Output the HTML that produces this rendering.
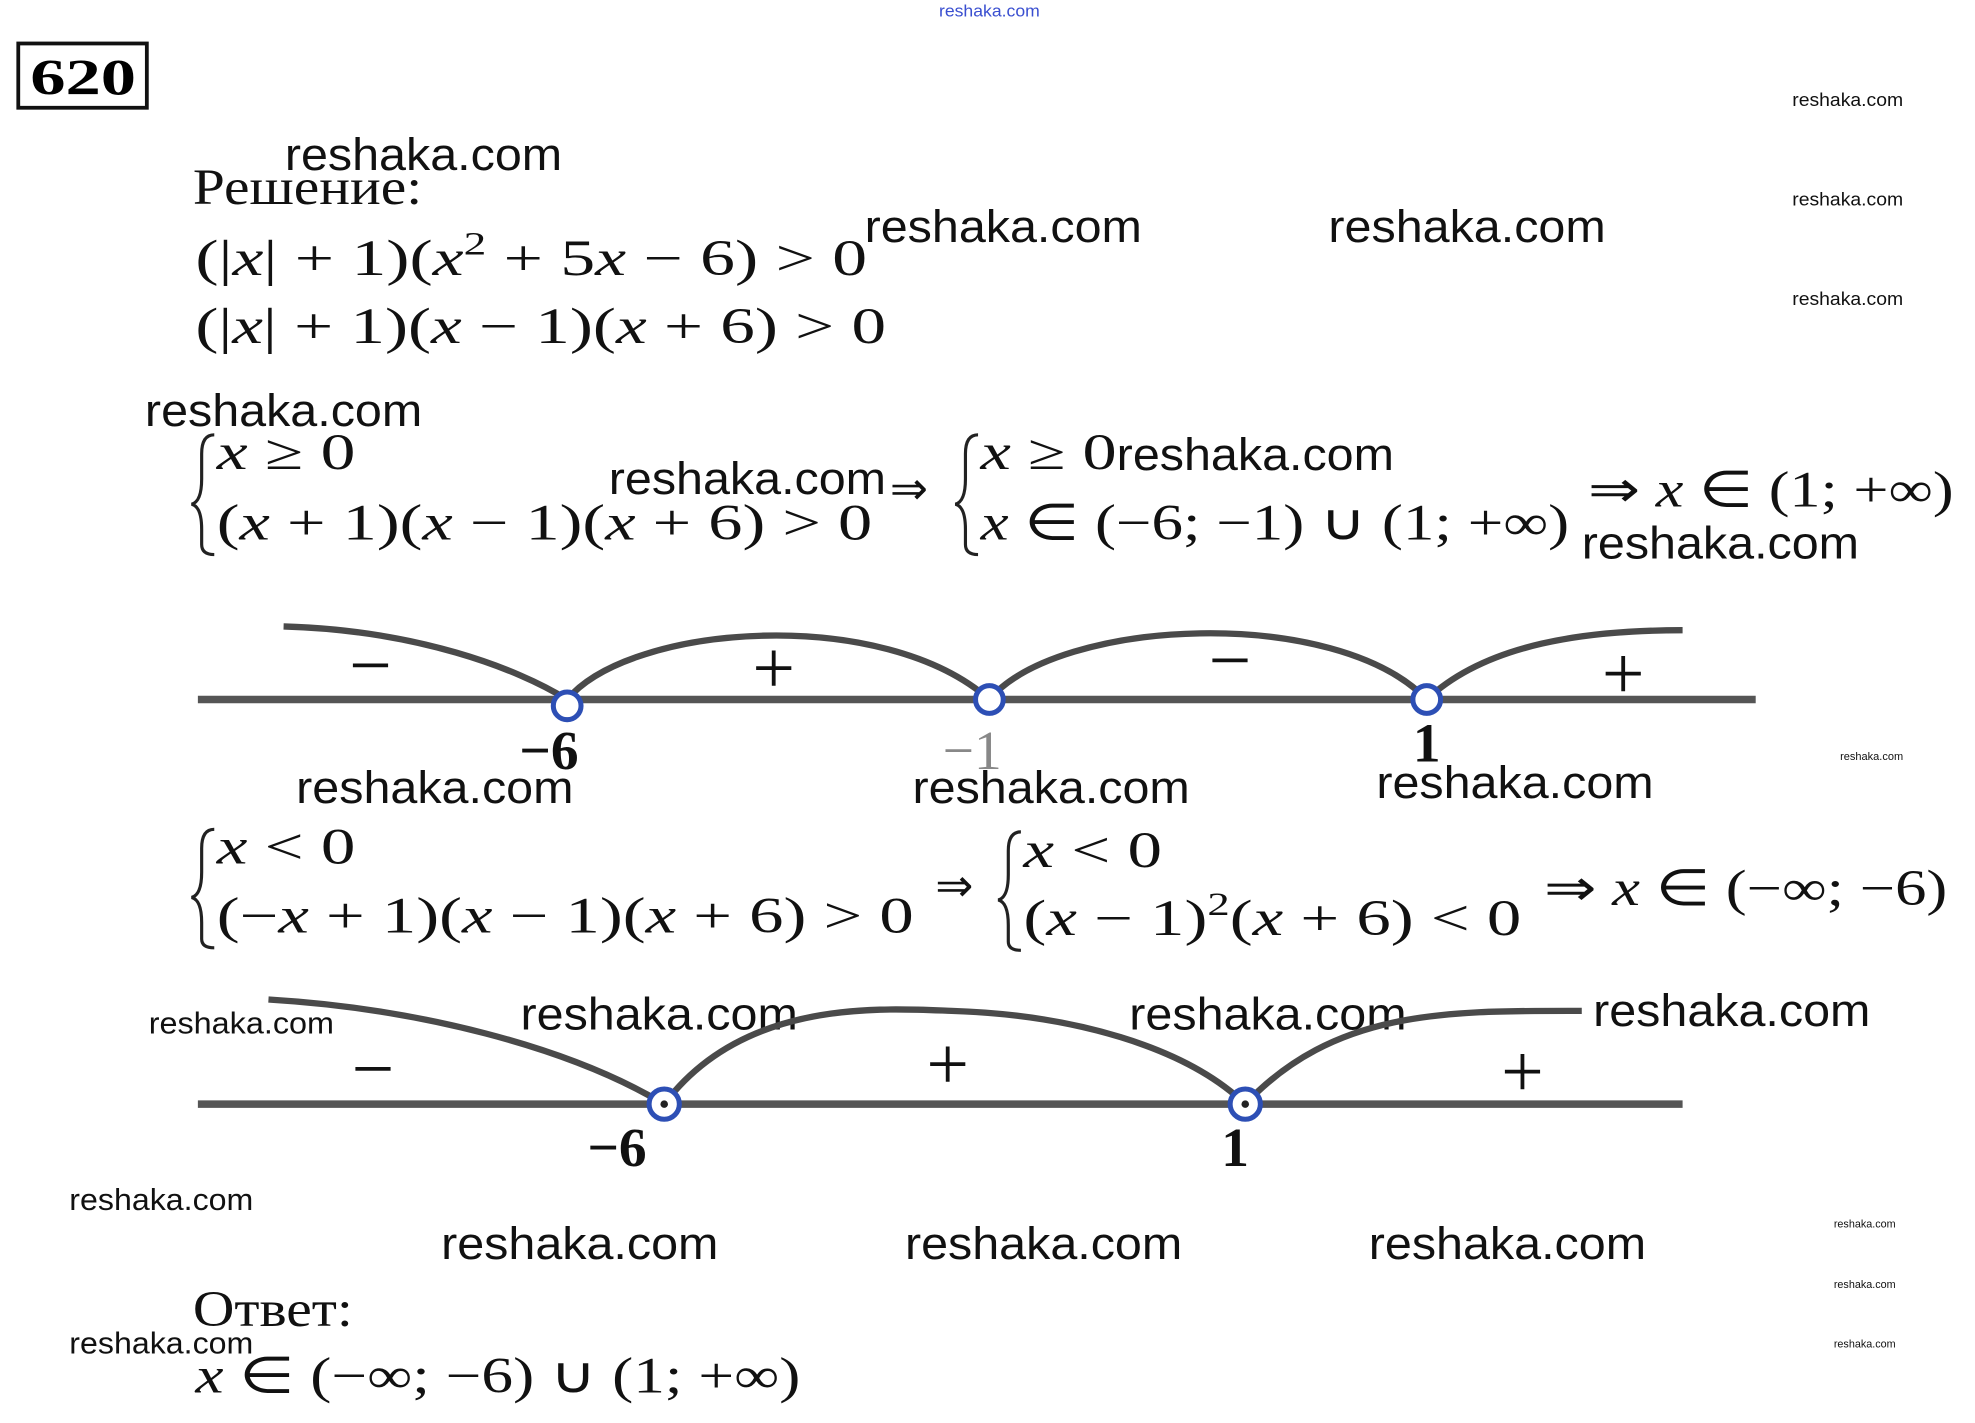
<!DOCTYPE html>
<html><head><meta charset="utf-8"><style>
html,body{margin:0;padding:0;background:#fff;width:1975px;height:1423px;overflow:hidden}
svg{display:block}
.w{font-family:"Liberation Sans",sans-serif;fill:#111}
.m{font-family:"Liberation Serif",serif;fill:#111;font-size:40px}
.i{font-style:italic}
</style></head><body>
<svg width="1975" height="1423" viewBox="0 0 1567 1129" preserveAspectRatio="none" xmlns="http://www.w3.org/2000/svg">
<text x="745" y="13" font-family="Liberation Sans,sans-serif" font-size="13" fill="#3a4fd0" textLength="80" lengthAdjust="spacingAndGlyphs">reshaka.com</text>
<rect x="14.5" y="34.5" width="102" height="51" fill="none" stroke="#111" stroke-width="3"/>
<text x="24" y="75" font-family="Liberation Serif,serif" font-weight="bold" font-size="40" textLength="84" lengthAdjust="spacingAndGlyphs">620</text>

<g class="w">
<text x="1422" y="84" font-size="15" textLength="88" lengthAdjust="spacingAndGlyphs">reshaka.com</text>
<text x="1422" y="163" font-size="15" textLength="88" lengthAdjust="spacingAndGlyphs">reshaka.com</text>
<text x="1422" y="242" font-size="15" textLength="88" lengthAdjust="spacingAndGlyphs">reshaka.com</text>
<text x="226" y="135" font-size="36" textLength="220" lengthAdjust="spacingAndGlyphs">reshaka.com</text>
<text x="686" y="192" font-size="36" textLength="220" lengthAdjust="spacingAndGlyphs">reshaka.com</text>
<text x="1054" y="192" font-size="36" textLength="220" lengthAdjust="spacingAndGlyphs">reshaka.com</text>
<text x="115" y="338" font-size="36" textLength="220" lengthAdjust="spacingAndGlyphs">reshaka.com</text>
<text x="483" y="392" font-size="36" textLength="220" lengthAdjust="spacingAndGlyphs">reshaka.com</text>
<text x="886" y="373" font-size="36" textLength="220" lengthAdjust="spacingAndGlyphs">reshaka.com</text>
<text x="1255" y="443" font-size="36" textLength="220" lengthAdjust="spacingAndGlyphs">reshaka.com</text>
<text x="1460" y="603" font-size="9" textLength="50" lengthAdjust="spacingAndGlyphs">reshaka.com</text>
<text x="235" y="637" font-size="36" textLength="220" lengthAdjust="spacingAndGlyphs">reshaka.com</text>
<text x="724" y="637" font-size="36" textLength="220" lengthAdjust="spacingAndGlyphs">reshaka.com</text>
<text x="1092" y="633" font-size="36" textLength="220" lengthAdjust="spacingAndGlyphs">reshaka.com</text>
<text x="118" y="820" font-size="24" textLength="147" lengthAdjust="spacingAndGlyphs">reshaka.com</text>
<text x="413" y="817" font-size="36" textLength="220" lengthAdjust="spacingAndGlyphs">reshaka.com</text>
<text x="896" y="817" font-size="36" textLength="220" lengthAdjust="spacingAndGlyphs">reshaka.com</text>
<text x="1264" y="814" font-size="36" textLength="220" lengthAdjust="spacingAndGlyphs">reshaka.com</text>
<text x="55" y="960" font-size="24" textLength="146" lengthAdjust="spacingAndGlyphs">reshaka.com</text>
<text x="350" y="999" font-size="36" textLength="220" lengthAdjust="spacingAndGlyphs">reshaka.com</text>
<text x="718" y="999" font-size="36" textLength="220" lengthAdjust="spacingAndGlyphs">reshaka.com</text>
<text x="1086" y="999" font-size="36" textLength="220" lengthAdjust="spacingAndGlyphs">reshaka.com</text>
<text x="1455" y="974" font-size="9" textLength="49" lengthAdjust="spacingAndGlyphs">reshaka.com</text>
<text x="1455" y="1022" font-size="9" textLength="49" lengthAdjust="spacingAndGlyphs">reshaka.com</text>
<text x="1455" y="1069" font-size="9" textLength="49" lengthAdjust="spacingAndGlyphs">reshaka.com</text>
<text x="55" y="1074" font-size="24" textLength="146" lengthAdjust="spacingAndGlyphs">reshaka.com</text>
</g>

<g class="m">
<text x="153" y="162" textLength="182" lengthAdjust="spacingAndGlyphs">Решение:</text>
<text x="155" y="218" textLength="533" lengthAdjust="spacingAndGlyphs">(|<tspan class="i">x</tspan>| + 1)(<tspan class="i">x</tspan><tspan style="font-size:26px" dy="-16">2</tspan><tspan dy="16"> + 5</tspan><tspan class="i">x</tspan> − 6) &gt; 0</text>
<text x="155" y="272" textLength="548" lengthAdjust="spacingAndGlyphs">(|<tspan class="i">x</tspan>| + 1)(<tspan class="i">x</tspan> − 1)(<tspan class="i">x</tspan> + 6) &gt; 0</text>

<text x="172" y="372" textLength="110" lengthAdjust="spacingAndGlyphs"><tspan class="i">x</tspan> ≥ 0</text>
<text x="172" y="428" textLength="520" lengthAdjust="spacingAndGlyphs">(<tspan class="i">x</tspan> + 1)(<tspan class="i">x</tspan> − 1)(<tspan class="i">x</tspan> + 6) &gt; 0</text>
<text x="706" y="400" style="font-size:36px">⇒</text>
<text x="778" y="372" textLength="108" lengthAdjust="spacingAndGlyphs"><tspan class="i">x</tspan> ≥ 0</text>
<text x="778" y="428" textLength="467" lengthAdjust="spacingAndGlyphs"><tspan class="i">x</tspan> ∈ (−6; −1) ∪ (1; +∞)</text>
<text x="1260" y="402" textLength="290" lengthAdjust="spacingAndGlyphs">⇒ <tspan class="i">x</tspan> ∈ (1; +∞)</text>

<text x="172" y="685" textLength="110" lengthAdjust="spacingAndGlyphs"><tspan class="i">x</tspan> &lt; 0</text>
<text x="172" y="740" textLength="553" lengthAdjust="spacingAndGlyphs">(−<tspan class="i">x</tspan> + 1)(<tspan class="i">x</tspan> − 1)(<tspan class="i">x</tspan> + 6) &gt; 0</text>
<text x="742" y="715" style="font-size:36px">⇒</text>
<text x="812" y="688" textLength="110" lengthAdjust="spacingAndGlyphs"><tspan class="i">x</tspan> &lt; 0</text>
<text x="812" y="742" textLength="395" lengthAdjust="spacingAndGlyphs">(<tspan class="i">x</tspan> − 1)<tspan style="font-size:26px" dy="-16">2</tspan><tspan dy="16">(</tspan><tspan class="i">x</tspan> + 6) &lt; 0</text>
<text x="1225" y="718" textLength="320" lengthAdjust="spacingAndGlyphs">⇒ <tspan class="i">x</tspan> ∈ (−∞; −6)</text>

<text x="153" y="1052" textLength="127" lengthAdjust="spacingAndGlyphs">Ответ:</text>
<text x="155" y="1105" textLength="480" lengthAdjust="spacingAndGlyphs"><tspan class="i">x</tspan> ∈ (−∞; −6) ∪ (1; +∞)</text>
</g>

<g fill="none" stroke="#222" stroke-width="2.5">
<path d="M170,345 Q160,345 160,360 L160,380 Q160,398 152,400 Q160,402 160,420 L160,432 Q160,440 170,440"/>
<path d="M776,345 Q766,345 766,360 L766,380 Q766,398 758,400 Q766,402 766,420 L766,432 Q766,440 776,440"/>
<path d="M170,658 Q160,658 160,673 L160,692 Q160,710 152,712 Q160,714 160,732 L160,745 Q160,752 170,752"/>
<path d="M810,660 Q800,660 800,675 L800,694 Q800,712 792,714 Q800,716 800,734 L800,747 Q800,754 810,754"/>
</g>

<!-- number line 1 -->
<line x1="157" y1="555" x2="1393" y2="555" stroke="#555" stroke-width="6"/>
<path d="M225,497 C330,500 410,530 450,555 C500,495 700,480 785,555 C840,490 1060,480 1132,555 C1180,510 1260,500 1335,500" fill="none" stroke="#4a4a4a" stroke-width="5"/>
<g fill="#fff" stroke="#2d4fb5" stroke-width="4">
<circle cx="450" cy="560" r="11"/><circle cx="785" cy="555" r="11"/><circle cx="1132" cy="555" r="11"/>
</g>
<g class="m" style="font-size:60px">
<text x="277" y="548">−</text><text x="597" y="550">+</text><text x="959" y="544">−</text><text x="1271" y="554">+</text>
</g>
<g class="m" style="font-size:44px;font-weight:bold">
<text x="412" y="610">−6</text><text x="748" y="610" fill="#888" style="font-weight:normal">−1</text><text x="1121" y="604">1</text>
</g>

<!-- number line 2 -->
<line x1="157" y1="876" x2="1335" y2="876" stroke="#555" stroke-width="6"/>
<path d="M213,793 C330,800 450,830 527,876 C590,792 700,800 755,802 C850,805 940,830 988,876 C1060,800 1150,802 1255,802" fill="none" stroke="#4a4a4a" stroke-width="5"/>
<g fill="#fff" stroke="#2d4fb5" stroke-width="4">
<circle cx="527" cy="876" r="12"/><circle cx="988" cy="876" r="12"/>
</g>
<circle cx="527" cy="876" r="3" fill="#222"/><circle cx="988" cy="876" r="3" fill="#222"/>
<g class="m" style="font-size:60px">
<text x="279" y="868">−</text><text x="735" y="864">+</text><text x="1191" y="870">+</text>
</g>
<g class="m" style="font-size:44px;font-weight:bold">
<text x="466" y="925">−6</text><text x="969" y="925">1</text>
</g>
</svg>
</body></html>
